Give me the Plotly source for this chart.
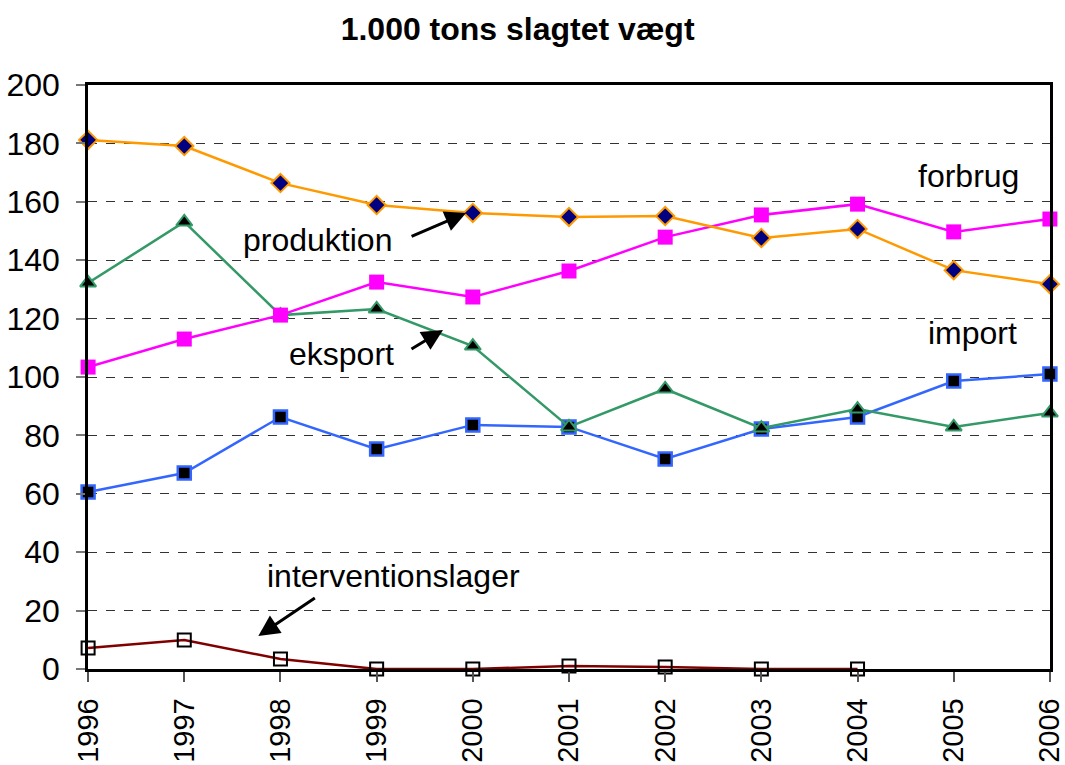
import plotly.graph_objects as go

years = [1996, 1997, 1998, 1999, 2000, 2001, 2002, 2003, 2004, 2005, 2006]
produktion = [181.2, 179.1, 166.4, 158.9, 156.2, 154.8, 155.1, 147.6, 150.7, 136.6, 131.8]
forbrug = [103.4, 113.0, 121.2, 132.5, 127.4, 136.3, 147.9, 155.5, 159.2, 149.7, 154.1]
eksport = [132.2, 153.1, 121.2, 123.3, 110.6, 82.9, 95.9, 82.5, 89.0, 82.9, 87.7]
import_ = [60.6, 67.1, 86.3, 75.3, 83.6, 82.9, 71.9, 82.2, 86.3, 98.6, 101.0]
interv_years = [1996, 1997, 1998, 1999, 2000, 2001, 2002, 2003, 2004]
interventionslager = [7.2, 9.9, 3.4, 0.0, 0.0, 1.0, 0.7, 0.0, 0.0]
y_ticks = [0, 20, 40, 60, 80, 100, 120, 140, 160, 180, 200]

FONT = "Arial, Liberation Sans, sans-serif"
FS = 32

fig = go.Figure()
fig.add_trace(go.Scatter(x=interv_years, y=interventionslager, mode="lines+markers",
                         line=dict(color="#800000", width=2.5),
                         marker=dict(symbol="square-open", size=13, color="black", line=dict(width=2)),
                         cliponaxis=False, name="interventionslager"))
fig.add_trace(go.Scatter(x=years, y=import_, mode="lines+markers",
                         line=dict(color="#3366FF", width=2.5),
                         marker=dict(symbol="square", size=13, color="black", line=dict(color="#3366FF", width=2.5)),
                         cliponaxis=False, name="import"))
fig.add_trace(go.Scatter(x=years, y=eksport, mode="lines+markers",
                         line=dict(color="#339966", width=2.5),
                         marker=dict(symbol="triangle-up", size=14, color="black", line=dict(color="#339966", width=2)),
                         cliponaxis=False, name="eksport"))
fig.add_trace(go.Scatter(x=years, y=forbrug, mode="lines+markers",
                         line=dict(color="#FF00FF", width=2.5),
                         marker=dict(symbol="square", size=15, color="#FF00FF"),
                         cliponaxis=False, name="forbrug"))
fig.add_trace(go.Scatter(x=years, y=produktion, mode="lines+markers",
                         line=dict(color="#FF9900", width=2.5),
                         marker=dict(symbol="diamond", size=14, color="#000080", line=dict(color="#FF9900", width=2)),
                         cliponaxis=False, name="produktion"))

ann_font = dict(family=FONT, size=FS, color="black")
annotations = [
    dict(x=1998.39, y=146.9, text="produktion", showarrow=False, font=ann_font),
    dict(x=1998.63, y=107.9, text="eksport", showarrow=False, font=ann_font),
    dict(x=2005.15, y=168.8, text="forbrug", showarrow=False, font=ann_font),
    dict(x=2005.2, y=115.1, text="import", showarrow=False, font=ann_font),
    dict(x=1999.18, y=31.8, text="interventionslager", showarrow=False, font=ann_font),
    dict(x=1999.93, y=156.2, text="", showarrow=True, ax=-56, ay=24, arrowhead=2,
         arrowsize=1.4, arrowwidth=3, arrowcolor="black"),
    dict(x=1999.69, y=116.1, text="", showarrow=True, ax=-33, ay=20, arrowhead=2,
         arrowsize=1.4, arrowwidth=3, arrowcolor="black"),
    dict(x=1997.77, y=11.3, text="", showarrow=True, ax=58, ay=-39, arrowhead=2,
         arrowsize=1.4, arrowwidth=3, arrowcolor="black"),
]

fig.update_layout(
    width=1065, height=765,
    margin=dict(l=88, r=15, t=85, b=96, autoexpand=False),
    paper_bgcolor="white", plot_bgcolor="white",
    showlegend=False,
    title=dict(text="<b>1.000 tons slagtet vægt</b>", x=0.486, xanchor="center", y=0.963, yanchor="middle",
               font=dict(family=FONT, size=FS, color="black")),
    font=dict(family=FONT, size=FS, color="black"),
    annotations=annotations,
    xaxis=dict(range=[1995.999, 2006.001], tickmode="array", tickvals=years, ticktext=[str(y) for y in years],
               tickangle=-90, showgrid=False, zeroline=False, automargin=False,
               showline=True, linecolor="black", linewidth=2.5, mirror=True,
               ticks="outside", ticklen=10, tickcolor="#555", tickwidth=1.5,
               ticklabeloverflow="allow", ticklabelstandoff=5,
               tickfont=dict(family=FONT, size=29, color="black")),
    yaxis=dict(range=[0, 200], tickmode="array", tickvals=y_ticks, automargin=False,
               showgrid=True, gridcolor="#333", gridwidth=1, griddash="dash", zeroline=False,
               showline=True, linecolor="black", linewidth=2.5, mirror=True,
               ticks="outside", ticklen=9, tickcolor="#777", tickwidth=1.5,
               ticklabelstandoff=10,
               tickfont=dict(family=FONT, size=FS, color="black")),
)

fig.write_html("out.html", config={"displayModeBar": False},
               post_script="document.body.style.margin='0';document.body.style.overflow='hidden';")
